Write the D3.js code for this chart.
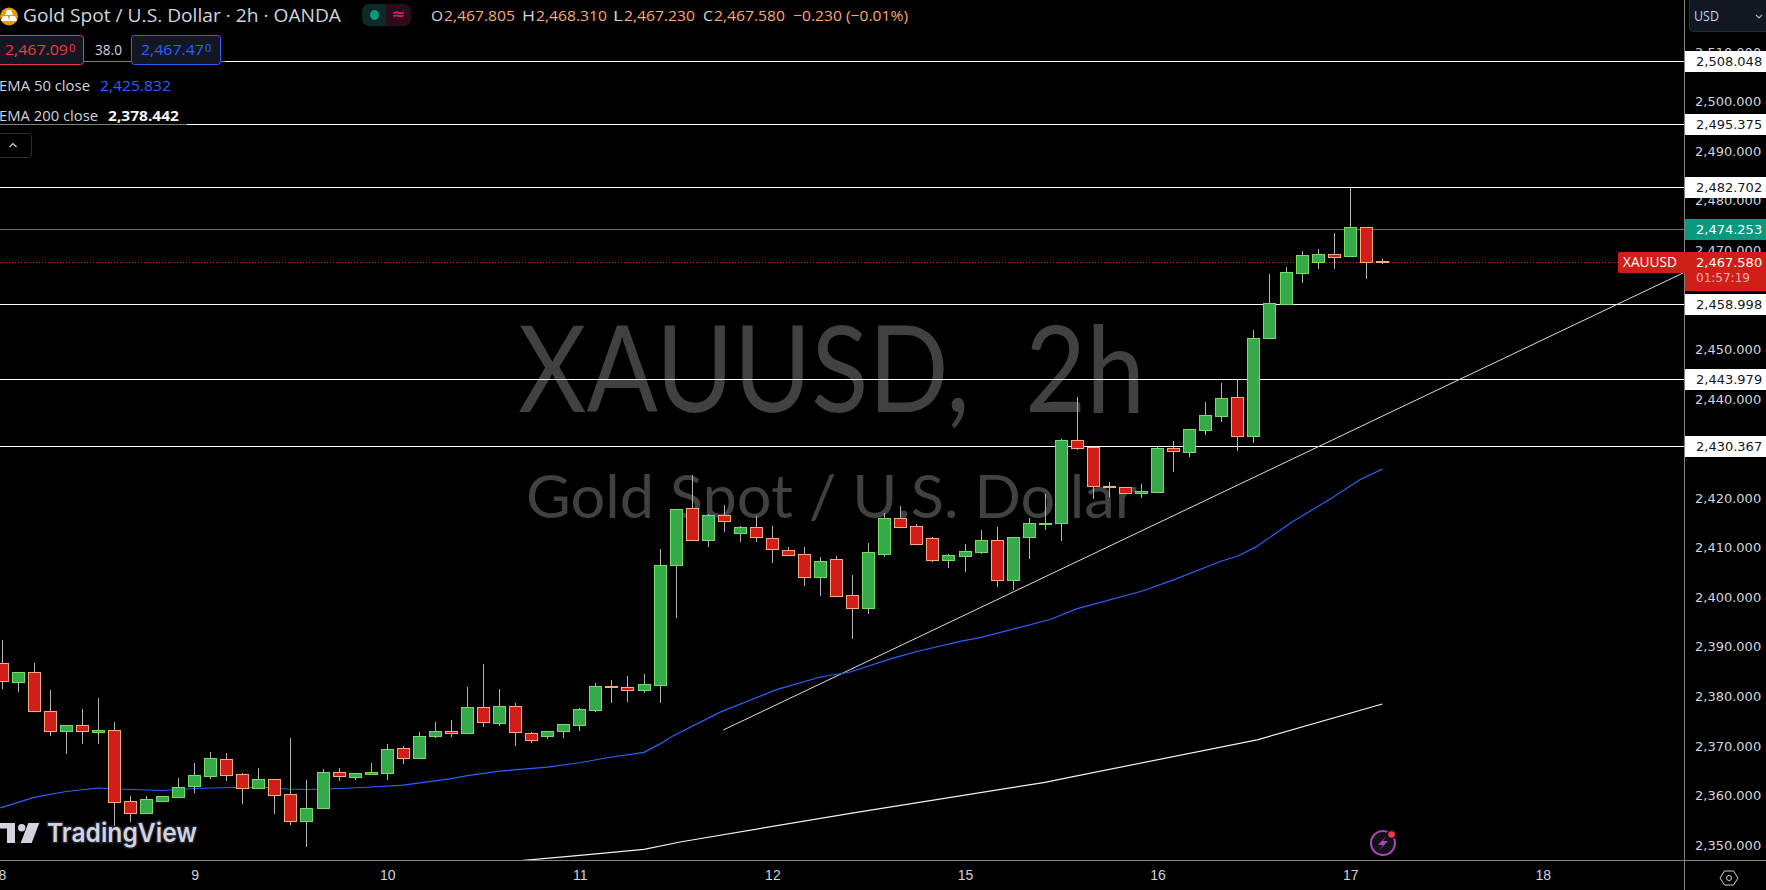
<!DOCTYPE html>
<html>
<head>
<meta charset="utf-8">
<script src="https://cdn.jsdelivr.net/npm/d3@7"></script>
<style>
  html, body { margin: 0; background: #000; overflow: hidden; }
  svg { display: block; }
</style>
</head>
<body>
<script>
// candles, one per 2h bar
var opens = [2386.6,2382.8,2384.9,2376.9,2372.8,2374.1,2372.6,2373.2,2358.7,2356.4,2358.8,2359.6,2361.9,2363.9,2367.2,2364.2,2361.5,2363.2,2360.1,2354.8,2357.4,2364.6,2363.7,2364.3,2364.5,2369.4,2367.5,2371.8,2372.8,2372.4,2377.7,2374.6,2377.9,2372.4,2371.8,2372.8,2374.2,2377.2,2381.9,2381.7,2381.2,2382.1,2406.3,2417.8,2411.5,2416.4,2412.9,2414.0,2411.8,2409.4,2408.6,2404.0,2407.7,2400.3,2397.8,2408.7,2415.8,2414.2,2411.8,2407.5,2408.3,2409.1,2411.4,2403.3,2412.0,2414.7,2414.8,2431.6,2430.3,2422.3,2422.1,2421.0,2421.2,2430.1,2429.1,2433.7,2436.5,2440.2,2432.5,2452.1,2459.1,2465.4,2467.6,2469.1,2468.7,2474.5,2467.805];
var highs = [2391.3,2384.9,2386.8,2381.2,2374.3,2377.5,2379.6,2374.9,2359.8,2359.8,2359.8,2363.6,2366.6,2368.7,2368.5,2364.6,2365.6,2363.2,2371.5,2363.2,2365.4,2365.6,2364.4,2366.6,2370.3,2369.9,2372.9,2374.9,2375.3,2381.8,2386.6,2381.4,2378.6,2372.7,2372.8,2374.3,2377.7,2382.6,2383.2,2384.0,2384.6,2409.8,2417.8,2424.6,2416.7,2418.7,2414.3,2416.3,2414.3,2410.2,2410.2,2408.2,2408.4,2404.4,2411.0,2416.9,2418.3,2414.8,2412.2,2408.8,2410.8,2413.5,2414.1,2412.0,2415.9,2420.9,2432.0,2440.3,2430.3,2423.3,2422.1,2422.9,2430.4,2431.6,2433.8,2439.3,2443.3,2444.1,2454.0,2465.3,2466.7,2469.8,2470.2,2473.4,2482.5,2474.5,2468.31];
var lows = [2381.4,2380.8,2376.9,2371.9,2368.3,2370.3,2370.3,2353.7,2354.7,2356.2,2358.8,2359.6,2360.5,2363.4,2362.9,2358.2,2361.5,2356.2,2354.1,2349.6,2357.4,2363.0,2363.1,2364.3,2363.2,2366.4,2367.3,2371.5,2371.7,2372.4,2373.9,2374.1,2369.9,2370.5,2371.3,2371.5,2373.1,2376.9,2378.6,2378.8,2380.6,2378.6,2395.8,2411.5,2410.1,2413.1,2411.2,2411.1,2406.8,2408.3,2402.2,2400.3,2400.1,2391.5,2396.7,2408.2,2413.9,2410.7,2407.0,2405.8,2405.0,2408.7,2402.0,2401.4,2407.8,2413.5,2411.4,2429.6,2419.9,2420.3,2421.0,2420.1,2421.2,2425.2,2428.2,2432.7,2435.3,2429.5,2431.1,2452.1,2458.9,2463.3,2466.3,2466.3,2468.7,2464.1,2467.23];
var closes = [2382.9,2384.9,2376.9,2372.8,2374.1,2372.8,2373.2,2358.6,2356.4,2359.1,2359.7,2361.7,2364.0,2367.4,2364.1,2361.5,2363.2,2360.0,2354.8,2357.3,2364.6,2363.9,2364.4,2364.6,2369.2,2367.5,2371.8,2372.8,2372.4,2377.7,2374.8,2377.9,2372.6,2371.1,2372.8,2374.3,2377.3,2381.9,2381.8,2381.2,2382.3,2406.3,2417.6,2411.5,2416.4,2415.2,2414.0,2412.0,2409.6,2408.5,2404.0,2407.3,2400.1,2397.8,2409.0,2415.8,2414.1,2410.7,2407.5,2408.4,2409.2,2411.4,2403.3,2412.0,2414.8,2414.8,2431.6,2430.1,2422.4,2422.2,2421.0,2421.3,2430.1,2429.3,2433.8,2436.6,2440.0,2432.5,2452.1,2459.2,2465.5,2468.9,2469.1,2468.6,2474.5,2467.6,2467.58];

// moving averages, read at the bends of each line
var ema50Idx = [-0.1,2,4,6,8,10,12,14.4,16.5,17.8,19,21.1,23,25,28,29,31,34,36,37.7,40,41,41.8,44.75,48.3,51,52.85,55.5,57.2,59.7,61,65.3,67,71,73,75.9,77,78.1,80.45,82.95,84.6,86];
var ema50Vals = [2357.5,2359.6,2360.8,2361.5,2361.2,2361.0,2361.4,2361.6,2361.6,2361.3,2361.2,2361.4,2361.7,2362.1,2363.4,2364.0,2364.9,2365.7,2366.6,2367.6,2368.7,2370.4,2372.0,2376.8,2381.4,2383.9,2384.9,2387.7,2389.2,2391.1,2391.9,2395.5,2397.7,2401.2,2403.5,2407.2,2408.3,2410.1,2415.3,2420.2,2423.7,2425.832];
var ema200Idx = [31,32.5,36,40,42.25,53.05,64.9,67.2,78.2,86];
var ema200Vals = [2346.4,2346.9,2347.9,2349.1,2350.6,2356.5,2362.6,2364.1,2371.2,2378.442];

// drawn lines
var levelValues = [2508.048, 2495.375, 2482.702, 2458.998, 2443.979, 2430.367];
var trendIdx = [44.94, 104.73];
var trendVals = [2373.2, 2465.4];
var greenLevel = 2474.253;
var lastPrice = 2467.58;

// axes
var priceTicks = d3.range(2350, 2511, 10);
var dayIdx = [0, 12, 24, 36, 48, 60, 72, 84, 96];
var dayLabels = ["8", "9", "10", "11", "12", "15", "16", "17", "18"];

var width = 1766, height = 890, plotW = 1684, plotH = 860;
var uiFont = '"Open Sans", sans-serif';
var axisFont = '"DejaVu Sans", sans-serif';

var x = d3.scaleLinear().domain([0, 84]).range([2, 1350.2]);
var y = d3.scaleLinear().domain([2350, 2510]).range([845, 52]);
var snap = function(v) { return Math.floor(v) + 0.5; };

var svg = d3.select("body").append("svg")
  .attr("width", width)
  .attr("height", height)
  .style("background", "#000");

svg.append("defs").append("clipPath").attr("id", "plot")
  .append("rect").attr("width", plotW).attr("height", plotH);

var plot = svg.append("g").attr("clip-path", "url(#plot)");

// watermark
plot.append("text").text("XAUUSD, 2h")
  .attr("x", 518).attr("y", 412)
  .attr("textLength", 627).attr("lengthAdjust", "spacingAndGlyphs")
  .attr("word-spacing", 32)
  .attr("font-family", "Lato, sans-serif").attr("font-size", 120).attr("fill", "#414141");
plot.append("text").text("Gold Spot / U.S. Dollar")
  .attr("x", 526).attr("y", 518)
  .attr("textLength", 611).attr("lengthAdjust", "spacingAndGlyphs")
  .attr("font-family", "Lato, sans-serif").attr("font-size", 60).attr("fill", "#414141");

// horizontal levels
plot.selectAll("line.level").data(levelValues).enter().append("line")
  .attr("class", "level")
  .attr("x1", 0).attr("x2", plotW)
  .attr("y1", function(d) { return snap(y(d)); })
  .attr("y2", function(d) { return snap(y(d)); })
  .attr("stroke", "#fff");

plot.append("line")
  .attr("x1", 0).attr("x2", plotW)
  .attr("y1", snap(y(greenLevel))).attr("y2", snap(y(greenLevel)))
  .attr("stroke", "#089981");

plot.append("line")
  .attr("x1", 0).attr("x2", 1618)
  .attr("y1", snap(y(lastPrice))).attr("y2", snap(y(lastPrice)))
  .attr("stroke", "#e0201c")
  .attr("stroke-dasharray", "1 2");

// trend line and the two EMAs
var lineFrom = function(idx, vals) {
  return d3.line()
    .x(function(d, i) { return x(idx[i]); })
    .y(function(d) { return y(d); })(vals);
};

plot.append("path").attr("d", lineFrom(trendIdx, trendVals))
  .attr("fill", "none").attr("stroke", "#dcdcdc").attr("stroke-width", 1);
plot.append("path").attr("d", lineFrom(ema50Idx, ema50Vals))
  .attr("fill", "none").attr("stroke", "#2962ff").attr("stroke-width", 1.2);
plot.append("path").attr("d", lineFrom(ema200Idx, ema200Vals))
  .attr("fill", "none").attr("stroke", "#f2f2f2").attr("stroke-width", 1.2);

// candles
var candles = opens.map(function(o, i) {
  return { i: i, o: o, h: highs[i], l: lows[i], c: closes[i] };
});
var isUp = function(d) { return d.c >= d.o; };

var candle = plot.selectAll("g.candle").data(candles).enter().append("g")
  .attr("class", "candle")
  .attr("transform", function(d) { return "translate(" + snap(x(d.i)) + ",0)"; });

candle.append("line")
  .attr("y1", function(d) { return Math.round(y(d.h)); })
  .attr("y2", function(d) { return Math.round(y(d.l)); })
  .attr("stroke", "#b4b4b4");

candle.append("rect")
  .attr("x", -6).attr("width", 12)
  .attr("y", function(d) { return snap(y(Math.max(d.o, d.c))); })
  .attr("height", function(d) {
    return Math.max(0.01, snap(y(Math.min(d.o, d.c))) - snap(y(Math.max(d.o, d.c))));
  })
  .attr("fill", function(d) { return isUp(d) ? "#36aa4a" : "#d11e18"; })
  .attr("stroke", function(d) { return isUp(d) ? "#74dd62" : "#ffab7c"; });

// TradingView logo
var logo = svg.append("g");
logo.append("path").attr("d", "M0 823H15V843H7V828.5H0Z").attr("fill", "#d1d4dc");
logo.append("circle").attr("cx", 21.7).attr("cy", 827.7).attr("r", 3.7).attr("fill", "#d1d4dc");
logo.append("path").attr("d", "M28.3 823H39.3L31.7 843H20.7Z").attr("fill", "#d1d4dc");
logo.append("text").text("TradingView")
  .attr("x", 47).attr("y", 842)
  .attr("textLength", 150).attr("lengthAdjust", "spacingAndGlyphs")
  .attr("font-family", '"Inter", "Open Sans", sans-serif')
  .attr("font-size", 26).attr("font-weight", 600).attr("fill", "#d1d4dc")
  .attr("stroke", "#1c2030").attr("stroke-width", 3).attr("paint-order", "stroke");

// lightning badge
var badge = svg.append("g").attr("transform", "translate(1383,843)");
badge.append("circle").attr("r", 12).attr("fill", "#141018")
  .attr("stroke", "#a848b8").attr("stroke-width", 2);
badge.append("path").attr("d", "M3.5 -7L-5 2H0L-3.5 7L5 -2H0Z").attr("fill", "#a848b8");
badge.append("circle").attr("cx", 8.5).attr("cy", -8.5).attr("r", 5).attr("fill", "#141018");
badge.append("circle").attr("cx", 8.5).attr("cy", -8.5).attr("r", 3.3).attr("fill", "#f23645");

// axis frame
svg.append("line").attr("x1", plotW + 0.5).attr("x2", plotW + 0.5).attr("y1", 0).attr("y2", height).attr("stroke", "#808080");
svg.append("line").attr("x1", 0).attr("x2", width).attr("y1", plotH + 0.5).attr("y2", plotH + 0.5).attr("stroke", "#808080");

// price axis
var yAxis = svg.append("g")
  .attr("transform", "translate(" + plotW + ",0)")
  .call(d3.axisRight(y).tickValues(priceTicks).tickSize(0).tickPadding(11).tickFormat(d3.format(",.3f")));
yAxis.select(".domain").remove();
yAxis.selectAll("text")
  .attr("font-family", axisFont).attr("font-size", 13).attr("fill", "#d1d4dc");

// time axis
var xAxis = svg.append("g")
  .attr("transform", "translate(0," + plotH + ")")
  .call(d3.axisBottom(x).tickValues(dayIdx).tickSize(0).tickPadding(10)
    .tickFormat(function(d, i) { return dayLabels[i]; }));
xAxis.select(".domain").remove();
xAxis.selectAll("text")
  .attr("font-family", '"Liberation Sans", sans-serif').attr("font-size", 14).attr("fill", "#d1d4dc");

// price boxes on the axis
var axisBox = function(v, fill, color, h) {
  var cy = snap(y(v));
  svg.append("rect").attr("x", plotW + 1).attr("y", cy - 10.5)
    .attr("width", width - plotW - 1).attr("height", h).attr("fill", fill);
  svg.append("text").text(d3.format(",.3f")(v))
    .attr("x", 1696).attr("y", cy + 4.5)
    .attr("font-family", axisFont).attr("font-size", 13).attr("fill", color);
};
levelValues.forEach(function(v) { axisBox(v, "#fff", "#131722", 21); });
axisBox(greenLevel, "#089981", "#fff", 21);
axisBox(lastPrice, "#d21e18", "#fff", 39);
svg.append("text").text("01:57:19")
  .attr("x", 1696).attr("y", snap(y(lastPrice)) + 19)
  .attr("font-family", axisFont).attr("font-size", 12).attr("fill", "#f4b0ac");

// symbol tag left of the price box
svg.append("rect").attr("x", 1618).attr("y", 252).attr("width", 70).attr("height", 21)
  .attr("rx", 2).attr("fill", "#d21e18");
svg.append("rect").attr("x", 1684).attr("y", 252).attr("width", 5).attr("height", 21).attr("fill", "#d21e18");
svg.append("text").text("XAUUSD")
  .attr("x", 1623).attr("y", 267).attr("textLength", 54).attr("lengthAdjust", "spacingAndGlyphs")
  .attr("font-family", uiFont).attr("font-size", 14).attr("fill", "#fff");

// currency button
svg.append("rect").attr("x", 1689.5).attr("y", -2).attr("width", 90).attr("height", 33.5)
  .attr("rx", 4).attr("fill", "#131722").attr("stroke", "#2a2e39");
svg.append("text").text("USD").attr("x", 1694).attr("y", 21)
  .attr("font-family", uiFont).attr("font-size", 14).attr("fill", "#b8d8f0")
  .attr("textLength", 25).attr("lengthAdjust", "spacingAndGlyphs");
svg.append("path").attr("d", "M1756 15L1759 18L1762 15").attr("fill", "none").attr("stroke", "#b2b5be").attr("stroke-width", 1.2);

// settings hexagon
var gear = svg.append("g").attr("transform", "translate(1729,878)");
gear.append("path").attr("d", "M-9 0L-4.5 -7H4.5L9 0L4.5 7H-4.5Z").attr("fill", "none").attr("stroke", "#d1d4dc");
gear.append("circle").attr("r", 2.5).attr("fill", "none").attr("stroke", "#d1d4dc");

// legend
var label = function(txt, px, py, color, len, size, weight) {
  return svg.append("text").text(txt)
    .attr("x", px).attr("y", py)
    .attr("textLength", len).attr("lengthAdjust", "spacingAndGlyphs")
    .attr("font-family", uiFont).attr("font-size", size || 15)
    .attr("font-weight", weight || 400).attr("fill", color);
};

// dims the level lines behind the legend rows
svg.append("rect").attr("x", 0).attr("y", 35).attr("width", 225).attr("height", 30).attr("fill", "#000").attr("opacity", 0.5);
svg.append("rect").attr("x", 0).attr("y", 100).attr("width", 187).attr("height", 30).attr("fill", "#000").attr("opacity", 0.5);

// gold icon
svg.append("circle").attr("cx", 9).attr("cy", 16.5).attr("r", 9).attr("fill", "#e0a000");
svg.append("path").attr("d", "M7 10H11L13 15H5ZM3 16H8L9 21H1ZM10 16H15L17 21H9Z").attr("fill", "#fff");

label("Gold Spot / U.S. Dollar · 2h · OANDA", 23, 22, "#d1d4dc", 318, 18);

// market status pill
svg.append("path").attr("d", "M386 4H369A7 7 0 0 0 362 11V19A7 7 0 0 0 369 26H386Z").attr("fill", "#0c2a26");
svg.append("path").attr("d", "M386 4H404A7 7 0 0 1 411 11V19A7 7 0 0 1 404 26H386Z").attr("fill", "#2c0c1c");
svg.append("ellipse").attr("cx", 374.5).attr("cy", 15).attr("rx", 4.5).attr("ry", 5).attr("fill", "#089981");
label("≈", 392, 20, "#e0185c", 12, 16, 700);

var ohlcKeys = ["O", "H", "L", "C"];
var ohlcVals = ["2,467.805", "2,468.310", "2,467.230", "2,467.580"];
var ohlcKeyX = [431, 522, 613, 703];
var ohlcValX = [444, 536, 624, 714];
var ohlcColor = "#f5a878";
ohlcKeys.forEach(function(k, i) {
  label(k, ohlcKeyX[i], 20.5, "#d1d4dc", ohlcValX[i] - ohlcKeyX[i] - 1, 15);
  label(ohlcVals[i], ohlcValX[i], 20.5, ohlcColor, 71, 15);
});
label("−0.230 (−0.01%)", 793, 20.5, ohlcColor, 115, 15);

// sell / spread / buy buttons
svg.append("rect").attr("x", -3.5).attr("y", 35.5).attr("width", 87).attr("height", 29).attr("rx", 3)
  .attr("fill", "#131722").attr("stroke", "#f23645");
svg.append("rect").attr("x", 131.5).attr("y", 35.5).attr("width", 89).attr("height", 29).attr("rx", 3)
  .attr("fill", "#131722").attr("stroke", "#2962ff");
var priceBtn = function(main, last, px, color) {
  var t = label(main, px, 55, color, 63, 15);
  svg.append("text").text(last).attr("x", px + 64).attr("y", 52)
    .attr("font-family", uiFont).attr("font-size", 11).attr("fill", color);
  return t;
};
priceBtn("2,467.09", "0", 5, "#f23645");
priceBtn("2,467.47", "0", 141, "#2962ff");
label("38.0", 95, 55, "#d1d4dc", 27, 14);

label("EMA 50 close", -1, 91, "#d1d4dc", 91, 14.5);
label("2,425.832", 100, 91, "#2962ff", 71, 14.5);
label("EMA 200 close", -1, 121, "#d1d4dc", 99, 14.5);
label("2,378.442", 108, 121, "#f5f5f5", 71, 14.5, 700);

// collapse button
svg.append("rect").attr("x", -4.5).attr("y", 133.5).attr("width", 36).attr("height", 24).attr("rx", 3)
  .attr("fill", "#000").attr("stroke", "#2a2e39");
svg.append("path").attr("d", "M9.5 147L13 143.5L16.5 147").attr("fill", "none").attr("stroke", "#d1d4dc").attr("stroke-width", 1.2);
</script>
</body>
</html>
